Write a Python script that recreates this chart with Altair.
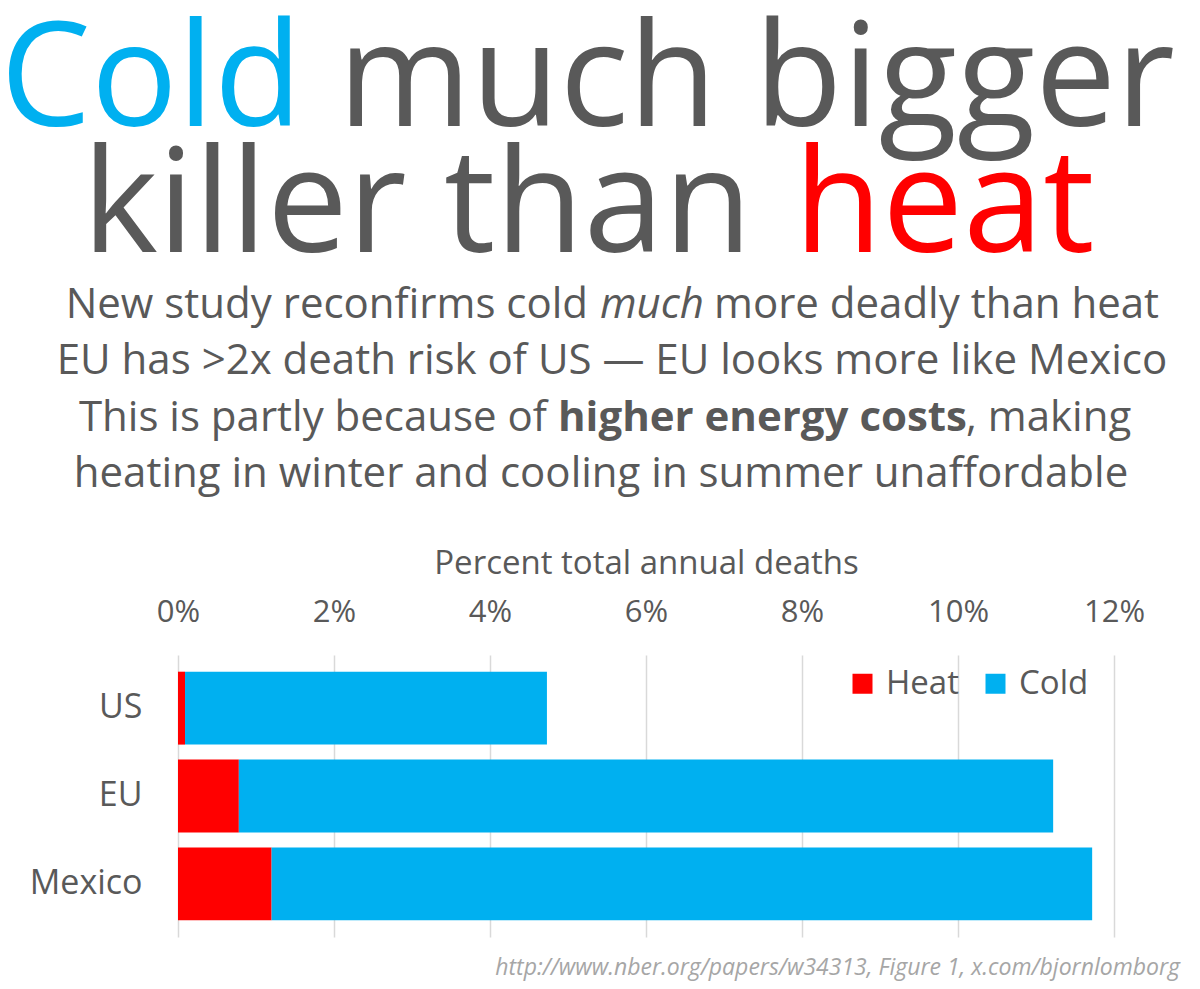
import altair as alt
import pandas as pd

countries = ["US", "EU", "Mexico"]
heat = [0.09, 0.78, 1.20]
cold = [4.64, 10.44, 10.52]
ticks = [0, 2, 4, 6, 8, 10, 12]

rows = []
for c, h, k in zip(countries, heat, cold):
    rows.append({"country": c, "type": "Heat", "value": h, "ord": 0})
    rows.append({"country": c, "type": "Cold", "value": k, "ord": 1})
df = pd.DataFrame(rows)

FONT = "Open Sans"
GRAY = "#595959"
BLUE = "#00B0F0"
RED = "#FF0000"

# plot origin on page: (178, 655)
OX, OY = 178, 655


def txt(s, px, py, size, color=GRAY, align="left", style="normal", weight="normal"):
    return alt.Chart(pd.DataFrame({"t": [s]})).mark_text(
        text=s, font=FONT, fontSize=size, color=color, align=align,
        baseline="alphabetic", fontStyle=style, fontWeight=weight
    ).encode(x=alt.value(px - OX), y=alt.value(py - OY))


bars = alt.Chart(df).mark_bar().encode(
    y=alt.Y("country:N", sort=countries, title=None,
            scale=alt.Scale(paddingInner=0.17, paddingOuter=0.19),
            axis=alt.Axis(labelFontSize=34, labelColor=GRAY, labelFont=FONT,
                          labelPadding=36, domain=False, ticks=False)),
    x=alt.X("value:Q", stack="zero", title="Percent total annual deaths",
            scale=alt.Scale(domain=[0, 12], nice=False),
            axis=alt.Axis(orient="top", values=ticks, labelExpr="datum.value + '%'",
                          labelFontSize=31, labelColor=GRAY, labelFont=FONT,
                          labelFlush=False, labelPadding=27, domain=False, ticks=False,
                          grid=True, gridColor="#d9d9d9", gridWidth=1.5,
                          titleFontSize=33, titleColor=GRAY, titleFont=FONT,
                          titleFontWeight="normal", titlePadding=16)),
    color=alt.Color("type:N", scale=alt.Scale(domain=["Heat", "Cold"], range=[RED, BLUE]),
                    legend=alt.Legend(orient="none", legendX=668, legendY=12,
                                      direction="horizontal", title=None,
                                      symbolType="square", symbolSize=400,
                                      symbolStrokeWidth=0, labelFontSize=33,
                                      labelColor=GRAY, labelFont=FONT,
                                      columnPadding=20, labelOffset=7)),
    order=alt.Order("ord:Q"),
)

layers = [
    bars,
    alt.Chart(pd.DataFrame({"t": [0]})).mark_rule(color="black", strokeWidth=3).encode(
        x=alt.value(-OX - 10), x2=alt.value(1300), y=alt.value(-OY + 1)),
    txt("Cold", 302, 126, 144, color=BLUE, align="right"),
    txt("much bigger", 338, 126, 144),
    txt("killer than", 752, 252, 144, align="right"),
    txt("heat", 794, 252, 144, color=RED),
    txt("New study reconfirms cold", 588, 318, 42, align="right"),
    txt("much", 600, 318, 42, style="italic"),
    txt("more deadly than heat", 714, 318, 42),
    txt("EU has >2x death risk of US \u2014 EU looks more like Mexico", 612, 374, 42, align="center"),
    txt("This is partly because of", 547, 431, 42, align="right"),
    txt("higher energy costs", 558, 431, 42, weight="bold"),
    txt(", making", 966, 431, 42),
    txt("heating in winter and cooling in summer unaffordable", 601, 487, 42, align="center"),
    txt("http://www.nber.org/papers/w34313, Figure 1, x.com/bjornlomborg", 1180, 975, 23,
        color="#a6a6a6", align="right", style="italic"),
]

chart = alt.layer(*layers).properties(
    width=936, height=282,
    autosize=alt.AutoSizeParams(type="none"),
    padding={"left": 170, "top": 647, "right": 78, "bottom": 44},
).configure(font=FONT, view=alt.ViewConfig(stroke=None))

chart.save("out.html", embed_options={"renderer": "svg", "actions": False})
